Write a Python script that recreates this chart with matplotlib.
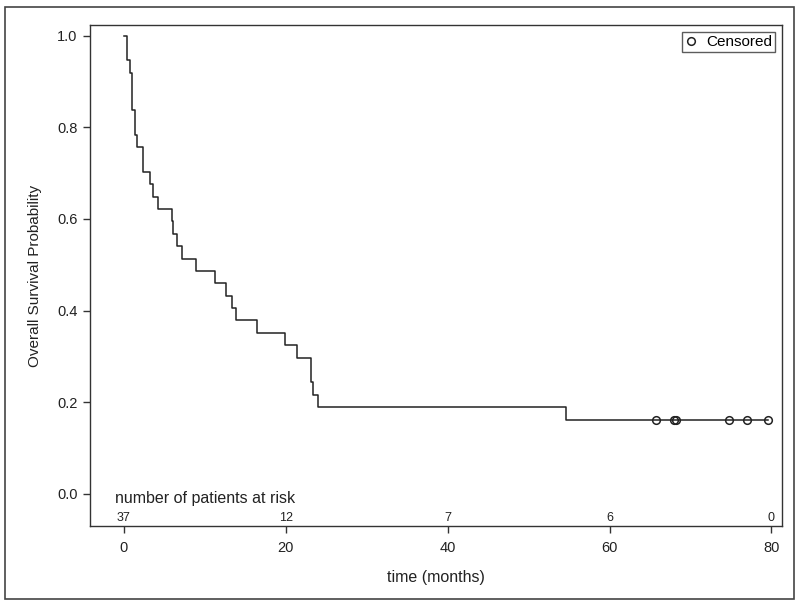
import numpy as np
import matplotlib
matplotlib.use("Agg")
import matplotlib.pyplot as plt
from matplotlib.patches import Rectangle
from matplotlib.lines import Line2D

plt.rcParams['font.family'] = ['Liberation Sans', 'DejaVu Sans']

# ---- data ----
n_total = 37
death_times = [0.33, 0.40, 0.74, 0.95, 1.36, 1.65, 2.4, 3.2, 3.6, 4.24, 5.9, 6.1, 6.6,
               7.2, 8.9, 11.3, 12.6, 13.3, 13.9, 16.4, 19.9, 21.4, 23.1, 23.3, 24.0, 54.6]
death_counts = [1, 1, 1, 3, 2, 1, 2, 1, 1, 1, 1, 1, 1,
                1, 1, 1, 1, 1, 1, 1, 1, 1, 2, 1, 1, 1]
censor_times = [65.7, 68.0, 68.25, 74.7, 77.0, 79.6]
risk_times = [0, 20, 40, 60, 80]
risk_counts = ["37", "12", "7", "6", "0"]
x_ticks = [0, 20, 40, 60, 80]
y_ticks = [0.0, 0.2, 0.4, 0.6, 0.8, 1.0]

# Kaplan-Meier estimate from the events
surv = [1.0]
times = [0.0]
at_risk = n_total
s = 1.0
for t, d in zip(death_times, death_counts):
    s *= (at_risk - d) / at_risk
    at_risk -= d
    times.append(t)
    surv.append(s)
times.append(max(censor_times))
surv.append(s)
censor_surv = [s] * len(censor_times)

fig = plt.figure(figsize=(8.0, 6.05), dpi=100)
ax = fig.add_axes([0.1125, 0.1306, 0.865, 0.828])

ax.step(times, surv, where='post', color='#222222', lw=1.1)
ax.plot(censor_times, censor_surv, linestyle='none', marker='o', ms=5.5,
        mfc='none', mec='#222222', mew=1.1)

ax.set_xlim(-4.2, 81.3)
ax.set_ylim(-0.07, 1.023)
ax.set_xticks(x_ticks)
ax.set_yticks(y_ticks)
ax.set_yticklabels([f"{v:.1f}" for v in y_ticks])
ax.tick_params(direction='out', length=5, width=1, colors='#333333',
               labelcolor='#222222')
ax.tick_params(axis='x', labelsize=10.5, pad=5.5)
ax.tick_params(axis='y', labelsize=10.5, pad=4)
for sp in ax.spines.values():
    sp.set_color('#333333')
    sp.set_linewidth(1.0)

ax.set_xlabel("time (months)", fontsize=11.5, color='#222222', labelpad=11)
ax.set_ylabel("Overall Survival Probability", fontsize=11, color='#222222', labelpad=11)

ax.text(-1.1, -0.0205, "number of patients at risk", fontsize=11.5, color='#222222',
        ha='left', va='baseline')
for t, c in zip(risk_times, risk_counts):
    ax.text(t, -0.053, c, fontsize=9, color='#222222', ha='center', va='center')

handle = Line2D([], [], linestyle='none', marker='o', ms=5.5, mfc='none',
                mec='#222222', mew=1.1)
leg = ax.legend([handle], ["Censored"], loc='upper right', fontsize=11,
                frameon=True, fancybox=False, handlelength=0.8, handletextpad=0.6,
                borderpad=0.2, borderaxespad=0.45)
leg.get_frame().set_edgecolor('#333333')
leg.get_frame().set_linewidth(1.0)

fig.patches.append(Rectangle((5/800, 1 - 599/605), 789/800, 592/605,
                             transform=fig.transFigure, fill=False,
                             edgecolor='#444444', lw=1.2))

fig.savefig("out.png", dpi=100)
